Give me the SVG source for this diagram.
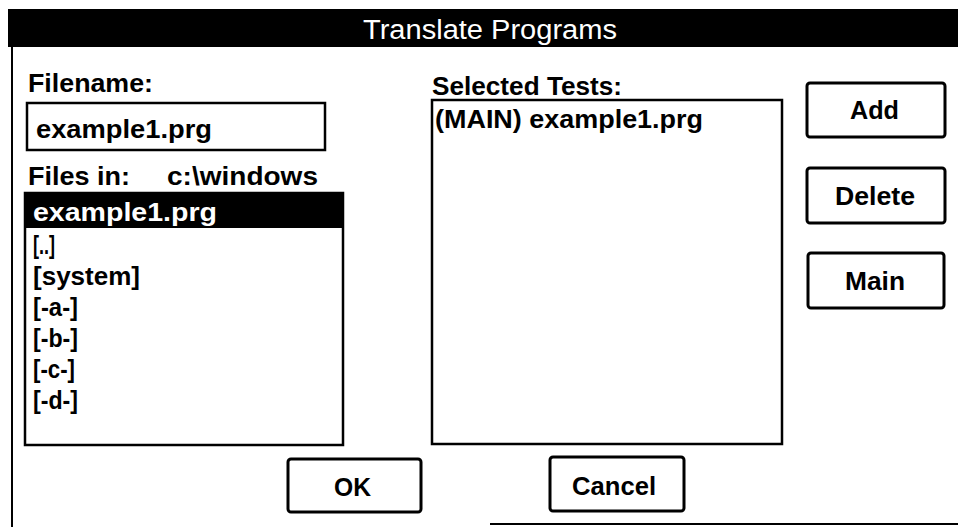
<svg xmlns="http://www.w3.org/2000/svg" width="958" height="527" viewBox="0 0 958 527">
<style>
  .box { fill: #fff; stroke: #000; stroke-width: 2.5; }
  .btn { fill: #fff; stroke: #000; stroke-width: 3; }
  .t { font-family: "Liberation Sans", Arial, sans-serif; font-weight: bold; font-size: 26px; fill: #000; }
  .w { fill: #fff; }
  .title { font-family: "Liberation Sans", Arial, sans-serif; font-size: 27px; fill: #fff; }
</style>
<rect x="0" y="0" width="958" height="527" fill="#fff"/>
<g id="window">
  <rect x="8" y="9" width="950" height="38" fill="#000"/>
  <text class="title" x="363" y="39" textLength="254" lengthAdjust="spacingAndGlyphs">Translate Programs</text>
  <line x1="12" y1="46" x2="12" y2="527" stroke="#000" stroke-width="2"/>
  <line x1="490" y1="524" x2="958" y2="524" stroke="#000" stroke-width="2"/>
</g>
<g id="filename">
  <text class="t" x="28" y="92" textLength="125" lengthAdjust="spacingAndGlyphs">Filename:</text>
  <rect class="box" x="27" y="103" width="298" height="47"/>
  <text class="t" x="36" y="138" textLength="176" lengthAdjust="spacingAndGlyphs">example1.prg</text>
</g>
<g id="files-in">
  <text class="t" x="28" y="185" textLength="102" lengthAdjust="spacingAndGlyphs">Files in:</text>
  <text class="t" x="167" y="185" textLength="151" lengthAdjust="spacingAndGlyphs">c:\windows</text>
</g>
<g id="file-list">
  <rect class="box" x="25" y="193" width="318" height="252"/>
  <rect x="25" y="193" width="318" height="35" fill="#000"/>
  <text class="t w" x="33" y="221" textLength="184" lengthAdjust="spacingAndGlyphs">example1.prg</text>
  <text class="t" x="33" y="254" textLength="22" lengthAdjust="spacingAndGlyphs">[..]</text>
  <text class="t" x="33" y="285" textLength="107" lengthAdjust="spacingAndGlyphs">[system]</text>
  <text class="t" x="33" y="316" textLength="45" lengthAdjust="spacingAndGlyphs">[-a-]</text>
  <text class="t" x="33" y="347" textLength="45" lengthAdjust="spacingAndGlyphs">[-b-]</text>
  <text class="t" x="33" y="378" textLength="42" lengthAdjust="spacingAndGlyphs">[-c-]</text>
  <text class="t" x="33" y="409" textLength="45" lengthAdjust="spacingAndGlyphs">[-d-]</text>
</g>
<g id="selected-tests">
  <text class="t" x="432" y="95" textLength="190" lengthAdjust="spacingAndGlyphs">Selected Tests:</text>
  <rect class="box" x="432" y="100" width="350" height="344"/>
  <text class="t" x="435" y="128" textLength="268" lengthAdjust="spacingAndGlyphs">(MAIN) example1.prg</text>
</g>
<g id="btn-add">
  <rect class="btn" x="807" y="83" width="138" height="54" rx="3"/>
  <text class="t" x="850" y="119" textLength="49" lengthAdjust="spacingAndGlyphs">Add</text>
</g>
<g id="btn-delete">
  <rect class="btn" x="807" y="168" width="138" height="55" rx="3"/>
  <text class="t" x="835" y="205" textLength="80" lengthAdjust="spacingAndGlyphs">Delete</text>
</g>
<g id="btn-main">
  <rect class="btn" x="808" y="253" width="136" height="55" rx="3"/>
  <text class="t" x="845" y="290" textLength="60" lengthAdjust="spacingAndGlyphs">Main</text>
</g>
<g id="btn-ok">
  <rect class="btn" x="288" y="459" width="133" height="53" rx="3"/>
  <text class="t" x="334" y="496" textLength="37" lengthAdjust="spacingAndGlyphs">OK</text>
</g>
<g id="btn-cancel">
  <rect class="btn" x="550" y="457" width="134" height="54" rx="3"/>
  <text class="t" x="572" y="495" textLength="84" lengthAdjust="spacingAndGlyphs">Cancel</text>
</g>
</svg>
